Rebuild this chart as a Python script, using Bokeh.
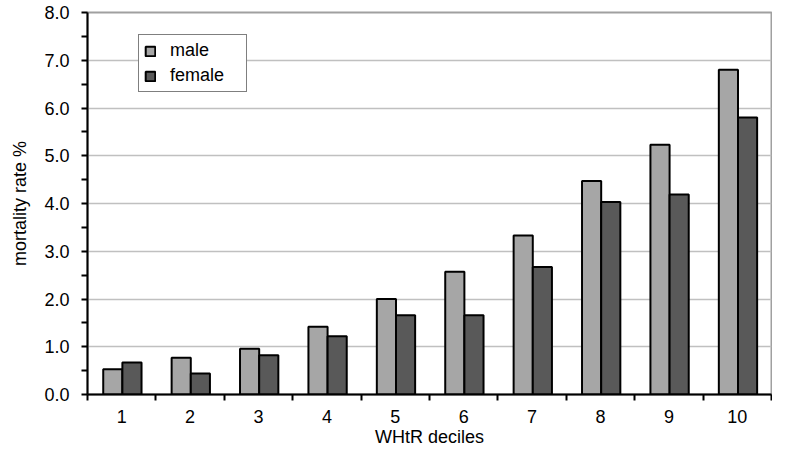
from bokeh.plotting import figure
from bokeh.models import (FixedTicker, Legend, LegendItem, NumeralTickFormatter,
                          Range1d, ColumnDataSource)
from bokeh.transform import dodge
from bokeh.embed import file_html
from bokeh.resources import INLINE

# ---- data ----
deciles = [1, 2, 3, 4, 5, 6, 7, 8, 9, 10]
decile_labels = ["1", "2", "3", "4", "5", "6", "7", "8", "9", "10"]
male = [0.53, 0.77, 0.96, 1.42, 2.00, 2.57, 3.33, 4.47, 5.23, 6.80]
female = [0.67, 0.44, 0.82, 1.22, 1.66, 1.66, 2.67, 4.03, 4.19, 5.80]
y_ticks = [0, 1, 2, 3, 4, 5, 6, 7, 8]
y_minor = [0.5, 1.5, 2.5, 3.5, 4.5, 5.5, 6.5, 7.5]
series_names = ["male", "female"]

FONT = "Liberation Sans"
FS = "18px"

p = figure(width=772, height=449, output_backend="svg", toolbar_location=None,
           x_range=Range1d(0.5, 10.5), y_range=Range1d(0, 8),
           min_border_left=87, min_border_right=1, min_border_top=12,
           min_border_bottom=55)
p.background_fill_color = "white"
p.border_fill_color = "white"
p.outline_line_color = "#a0a0a0"
p.outline_line_width = 2

src = ColumnDataSource(dict(x=deciles, male=male, female=female))
r_m = p.vbar(x=dodge("x", -0.13), top="male", width=0.28, source=src,
             fill_color="#a6a6a6", line_color="black", line_width=2)
r_f = p.vbar(x=dodge("x", 0.15), top="female", width=0.28, source=src,
             fill_color="#595959", line_color="black", line_width=2)

xa = p.xaxis[0]
xa.ticker = FixedTicker(ticks=deciles, minor_ticks=[d + 0.5 for d in [0] + deciles])
xa.major_label_overrides = {d: l for d, l in zip(deciles, decile_labels)}
xa.major_tick_out = 0
xa.major_tick_in = 0
xa.minor_tick_out = 6
xa.minor_tick_in = 0
xa.minor_tick_line_width = 2
xa.minor_tick_line_color = "black"
xa.axis_line_width = 2
xa.axis_line_color = "black"
xa.major_label_standoff = 9
xa.axis_label = "WHtR deciles"
xa.axis_label_standoff = 1

ya = p.yaxis[0]
ya.ticker = FixedTicker(ticks=y_ticks, minor_ticks=y_minor)
ya.formatter = NumeralTickFormatter(format="0.0")
ya.major_tick_out = 6
ya.major_tick_in = 0
ya.minor_tick_out = 6
ya.minor_tick_in = 0
ya.major_tick_line_width = 2
ya.minor_tick_line_width = 2
ya.major_tick_line_color = "black"
ya.minor_tick_line_color = "black"
ya.axis_line_width = 2
ya.axis_line_color = "black"
ya.major_label_standoff = 12
ya.axis_label = "mortality rate %"
ya.axis_label_standoff = 11

for ax in (xa, ya):
    ax.major_label_text_font = FONT
    ax.major_label_text_font_size = FS
    ax.major_label_text_color = "black"
    ax.axis_label_text_font = FONT
    ax.axis_label_text_font_size = FS
    ax.axis_label_text_font_style = "normal"
    ax.axis_label_text_color = "black"

p.xgrid.visible = False
p.ygrid.grid_line_color = "#c0c0c0"
p.ygrid.grid_line_width = 1.5

legend = Legend(items=[LegendItem(label=series_names[0], renderers=[r_m]),
                       LegendItem(label=series_names[1], renderers=[r_f])],
                location=(51, 302), margin=0, padding=5, spacing=4,
                glyph_width=12, glyph_height=12, label_height=14, label_width=71,
                label_standoff=14, border_line_color="black", border_line_width=1.5,
                label_text_font=FONT, label_text_font_size=FS,
                label_text_color="black", background_fill_color="white",
                background_fill_alpha=1.0)
p.add_layout(legend)

open("out.html", "w").write(file_html(p, INLINE))
